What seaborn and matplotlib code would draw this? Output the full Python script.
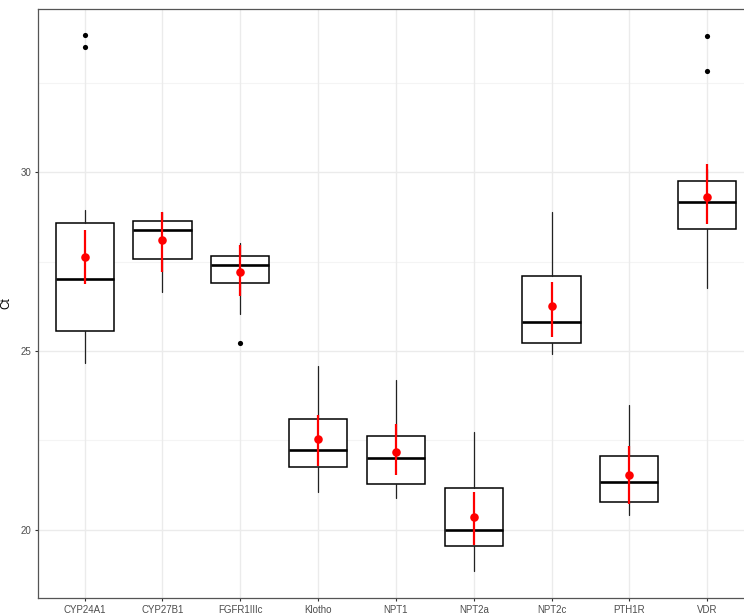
import matplotlib
matplotlib.use("Agg")
import matplotlib.pyplot as plt
import seaborn as sns
import pandas as pd
import numpy as np

# box statistics
genes = ["CYP24A1", "CYP27B1", "FGFR1IIIc", "Klotho", "NPT1", "NPT2a", "NPT2c", "PTH1R", "VDR"]
whislo = [24.67, 26.64, 26.03, 21.05, 20.89, 18.84, 24.91, 20.40, 26.76]
q1 = [25.55, 27.57, 26.89, 21.75, 21.28, 19.54, 25.22, 20.78, 28.41]
med = [27.00, 28.39, 27.40, 22.24, 22.01, 20.00, 25.81, 21.33, 29.16]
q3 = [28.59, 28.63, 27.65, 23.10, 22.61, 21.17, 27.10, 22.07, 29.75]
whishi = [28.93, 28.89, 28.03, 24.59, 24.18, 22.73, 28.88, 23.49, 30.10]
outliers = [[33.49, 33.83], [], [25.23], [], [], [], [], [], [32.84, 33.80]]

# mean with error bar ends (red)
mean_ct = [27.63, 28.09, 27.21, 22.54, 22.17, 20.35, 26.26, 21.54, 29.32]
err_lo = [26.87, 27.22, 26.53, 21.79, 21.53, 19.57, 25.39, 20.71, 28.55]
err_hi = [28.39, 28.89, 27.95, 23.21, 22.97, 21.04, 26.92, 22.35, 30.22]

sns.set_theme(style="white")
plt.rcParams['font.family'] = ['Liberation Sans', 'DejaVu Sans']

fig = plt.figure(figsize=(7.44, 6.15), dpi=100)
ax = fig.add_axes([38 / 744, (615 - 598.3) / 615, 715.8 / 744, (598.3 - 8.5) / 615])

pos = np.arange(len(genes))

# grid like theme_bw
for y in [20, 25, 30]:
    ax.axhline(y, color="#EBEBEB", lw=1.0, zorder=0)
for y in [22.5, 27.5, 32.5]:
    ax.axhline(y, color="#F4F4F4", lw=0.8, zorder=0)
for x in pos:
    ax.axvline(x, color="#EBEBEB", lw=1.0, zorder=0)

stats = []
for i, g in enumerate(genes):
    stats.append(dict(label=g, whislo=whislo[i], q1=q1[i], med=med[i],
                      q3=q3[i], whishi=whishi[i], fliers=[]))

ax.bxp(stats, positions=pos, widths=0.75, showcaps=False, showfliers=False,
       patch_artist=True,
       boxprops=dict(facecolor="white", edgecolor="black", linewidth=1.1),
       medianprops=dict(color="black", linewidth=1.9),
       whiskerprops=dict(color="#222222", linewidth=0.9))

# outliers
out_df = pd.DataFrame([(pos[i], v) for i, vals in enumerate(outliers) for v in vals],
                      columns=["x", "ct"])
sns.scatterplot(data=out_df, x="x", y="ct", color="black", s=14, linewidth=0,
                ax=ax, zorder=4)

# mean and error bar
mean_df = pd.DataFrame({"x": pos, "ct": mean_ct, "lo": err_lo, "hi": err_hi})
ax.vlines(mean_df["x"], mean_df["lo"], mean_df["hi"], color="red", lw=1.6, zorder=5)
sns.scatterplot(data=mean_df, x="x", y="ct", color="red", s=38, linewidth=0,
                ax=ax, zorder=6)

ax.set_xlim(-0.6, 8.6)
ax.set_ylim(18.08, 34.58)
ax.set_xticks(pos)
ax.set_xticklabels(genes)
ax.set_yticks([20, 25, 30])
ax.set_yticklabels(["20", "25", "30"])
ax.tick_params(axis="both", which="major", length=2.5, width=0.8, color="#333333",
               labelsize=7, labelcolor="#4D4D4D", pad=2, bottom=True, left=True)
ax.set_xlabel("")
ax.set_ylabel("Ct", fontsize=8.5, color="black", labelpad=6)

for s in ax.spines.values():
    s.set_color("#555555")
    s.set_linewidth(0.9)

fig.savefig("out.png", dpi=100)
